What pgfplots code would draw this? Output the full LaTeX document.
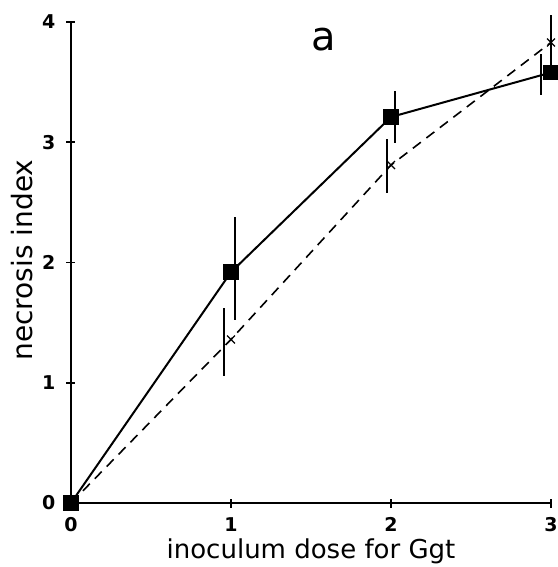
\documentclass[border=0pt]{standalone}
\usepackage{fontspec}
\setmainfont{DejaVu Sans}
\usepackage{pgfplots}
\pgfplotsset{compat=1.18}
\begin{document}
\begin{tikzpicture}
% page size fixed to the reference proportions
\path[use as bounding box] (-35.5pt,-32pt) rectangle (243pt,251.5pt);
\begin{axis}[
  scale only axis,
  width=240pt, height=240.5pt,
  xmin=0, xmax=3, ymin=0, ymax=4,
  axis lines*=left,
  axis line style={line width=1pt},
  xtick={0,1,2,3}, ytick={0,1,2,3,4},
  tick align=center,
  major tick length=4.5pt,
  tick style={line width=0.9pt, black},
  /pgf/number format/assume math mode=true,
  ticklabel style={font=\bfseries\fontsize{9.5}{11}\selectfont},
  xticklabel style={yshift=-1.5pt},
  yticklabel style={xshift=-2pt},
  xlabel={inoculum dose for Ggt},
  ylabel={necrosis index},
  xlabel style={font=\fontsize{13}{15}\selectfont,
    at={(axis cs:1.5,0)}, anchor=base, yshift=-27.5pt},
  ylabel style={font=\fontsize{14}{16}\selectfont,
    at={(axis cs:-0.24,2.02)}, anchor=base},
  clip=false,
]
% dashed series (crosses)
\addplot[black, line width=0.8pt, dash pattern=on 5pt off 3.5pt,
  mark=x, mark size=2.8pt, mark options={solid, line width=0.6pt}]
  coordinates {(0,0) (1,1.36) (2,2.81) (3,3.83)};
% solid series (filled squares)
\addplot[black, line width=1pt, mark=square*, mark size=3.4pt]
  coordinates {(0,0) (1,1.92) (2,3.21) (3,3.58)};
% error bars, solid series
\addplot[draw=none, no markers, forget plot,
  error bars/.cd, y dir=both, y explicit, error mark=none,
  error bar style={draw=black, solid, line width=1pt}]
  coordinates {(1.025,1.95) +- (0,0.43) (2.025,3.21) +- (0,0.22) (2.94,3.56) +- (0,0.17)};
% error bars, dashed series
\addplot[draw=none, no markers, forget plot,
  error bars/.cd, y dir=both, y explicit, error mark=none,
  error bar style={draw=black, solid, line width=1pt}]
  coordinates {(0.956,1.34) +- (0,0.28) (1.975,2.805) +- (0,0.225) (3.0,3.83) +- (0,0.23)};
\node[font=\fontsize{20}{24}\selectfont] at (axis cs:1.58,3.85) {a};
\end{axis}
\end{tikzpicture}
\end{document}
